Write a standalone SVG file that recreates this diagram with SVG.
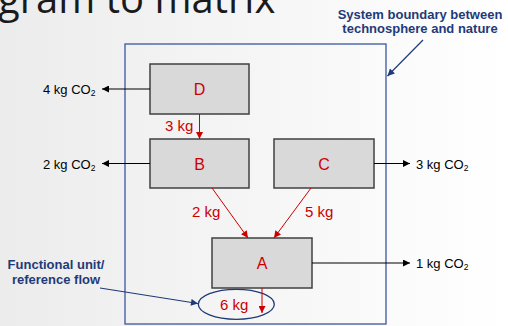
<svg xmlns="http://www.w3.org/2000/svg" width="508" height="326" viewBox="0 0 508 326">
  <defs>
    <linearGradient id="bg" x1="0" y1="0" x2="1" y2="0">
      <stop offset="0" stop-color="#ececec"/>
      <stop offset="1" stop-color="#ffffff"/>
    </linearGradient>
    <marker id="ah-black" viewBox="0 0 10 10" refX="10" refY="5" markerWidth="9" markerHeight="7" markerUnits="userSpaceOnUse" orient="auto">
      <path d="M0,0 L10,5 L0,10 z" fill="#000"/>
    </marker>
    <marker id="ah-red" viewBox="0 0 10 10" refX="10" refY="5" markerWidth="9" markerHeight="7" markerUnits="userSpaceOnUse" orient="auto">
      <path d="M0,0 L10,5 L0,10 z" fill="#cc0000"/>
    </marker>
    <marker id="ah-navy" viewBox="0 0 10 10" refX="10" refY="5" markerWidth="9" markerHeight="7" markerUnits="userSpaceOnUse" orient="auto">
      <path d="M0,0 L10,5 L0,10 z" fill="#1f3a78"/>
    </marker>
  </defs>
  <style>
    .box { fill: #d9d9d9; stroke: #404040; stroke-width: 1.5; }
    .lbl { font-family: "Liberation Sans", Arial, sans-serif; font-size: 16px; fill: #cc0000; text-anchor: middle; }
    .flow { font-family: "Liberation Sans", Arial, sans-serif; font-size: 15px; fill: #cc0000; }
    .co2 { font-family: "Liberation Sans", Arial, sans-serif; font-size: 13px; fill: #000; }
    .note { font-family: "Liberation Sans", Arial, sans-serif; font-size: 13px; font-weight: bold; fill: #1f3a78; text-anchor: middle; }
    .black { stroke: #000; stroke-width: 1; fill: none; marker-end: url(#ah-black); }
    .red { stroke: #cc0000; stroke-width: 1; fill: none; marker-end: url(#ah-red); }
    .navy { stroke: #1f3a78; stroke-width: 1.2; fill: none; marker-end: url(#ah-navy); }
  </style>

  <!-- background and heading -->
  <rect x="0" y="0" width="508" height="326" fill="url(#bg)"/>
  <text x="-2" y="13" font-family="'Open Sans', 'Liberation Sans', sans-serif" font-size="40" fill="#1a1a1a">gram to matrix</text>

  <!-- system boundary -->
  <g id="boundary">
    <rect x="125" y="44" width="261" height="280" fill="none" stroke="#3a56a0" stroke-width="1.3"/>
    <text class="note" x="420" y="19">System boundary between</text>
    <text class="note" x="420" y="33">technosphere and nature</text>
  </g>

  <!-- processes -->
  <g id="D">
    <rect class="box" x="150" y="64" width="99" height="50"/>
    <text class="lbl" x="199.5" y="95">D</text>
  </g>
  <g id="B">
    <rect class="box" x="150" y="139" width="99" height="49"/>
    <text class="lbl" x="199.5" y="169.5">B</text>
  </g>
  <g id="C">
    <rect class="box" x="274" y="139" width="100" height="49"/>
    <text class="lbl" x="324" y="169.5">C</text>
  </g>
  <g id="A">
    <rect class="box" x="212" y="238" width="100" height="50"/>
    <text class="lbl" x="262" y="269">A</text>
  </g>

  <!-- functional unit -->
  <g id="functional-unit">
    <ellipse cx="236.3" cy="304.3" rx="38" ry="15" fill="none" stroke="#1f3a78" stroke-width="1.3"/>
    <text class="flow" x="220" y="309.5">6 kg</text>
    <text class="note" x="56" y="269">Functional unit/</text>
    <text class="note" x="56" y="283.5">reference flow</text>
  </g>

  <!-- emissions -->
  <g id="emissions">
    <text class="co2" x="43" y="94">4 kg CO<tspan font-size="8.5" dy="2">2</tspan></text>
    <text class="co2" x="43" y="168.5">2 kg CO<tspan font-size="8.5" dy="2">2</tspan></text>
    <text class="co2" x="416" y="168.5">3 kg CO<tspan font-size="8.5" dy="2">2</tspan></text>
    <text class="co2" x="416" y="268">1 kg CO<tspan font-size="8.5" dy="2">2</tspan></text>
  </g>

  <!-- connectors -->
  <g id="connectors">
    <line class="black" x1="150" y1="89" x2="102" y2="89"/>
    <line class="black" x1="150" y1="163.5" x2="102" y2="163.5"/>
    <line class="black" x1="374" y1="163.5" x2="410" y2="163.5"/>
    <line class="black" x1="312" y1="263" x2="410" y2="263"/>

    <line class="red" x1="199.5" y1="114" x2="199.5" y2="139"/>
    <line class="red" x1="212" y1="188" x2="248" y2="238"/>
    <line class="red" x1="311" y1="188" x2="274" y2="238"/>
    <line class="red" x1="262" y1="288" x2="262" y2="313"/>

    <line class="navy" x1="100" y1="288" x2="198" y2="303.5"/>
    <line class="navy" x1="423" y1="40" x2="387.5" y2="76"/>
  </g>

  <!-- flow amounts -->
  <g id="flow-labels">
    <text class="flow" x="165" y="131">3 kg</text>
    <text class="flow" x="192" y="217">2 kg</text>
    <text class="flow" x="305" y="217">5 kg</text>
  </g>
</svg>
